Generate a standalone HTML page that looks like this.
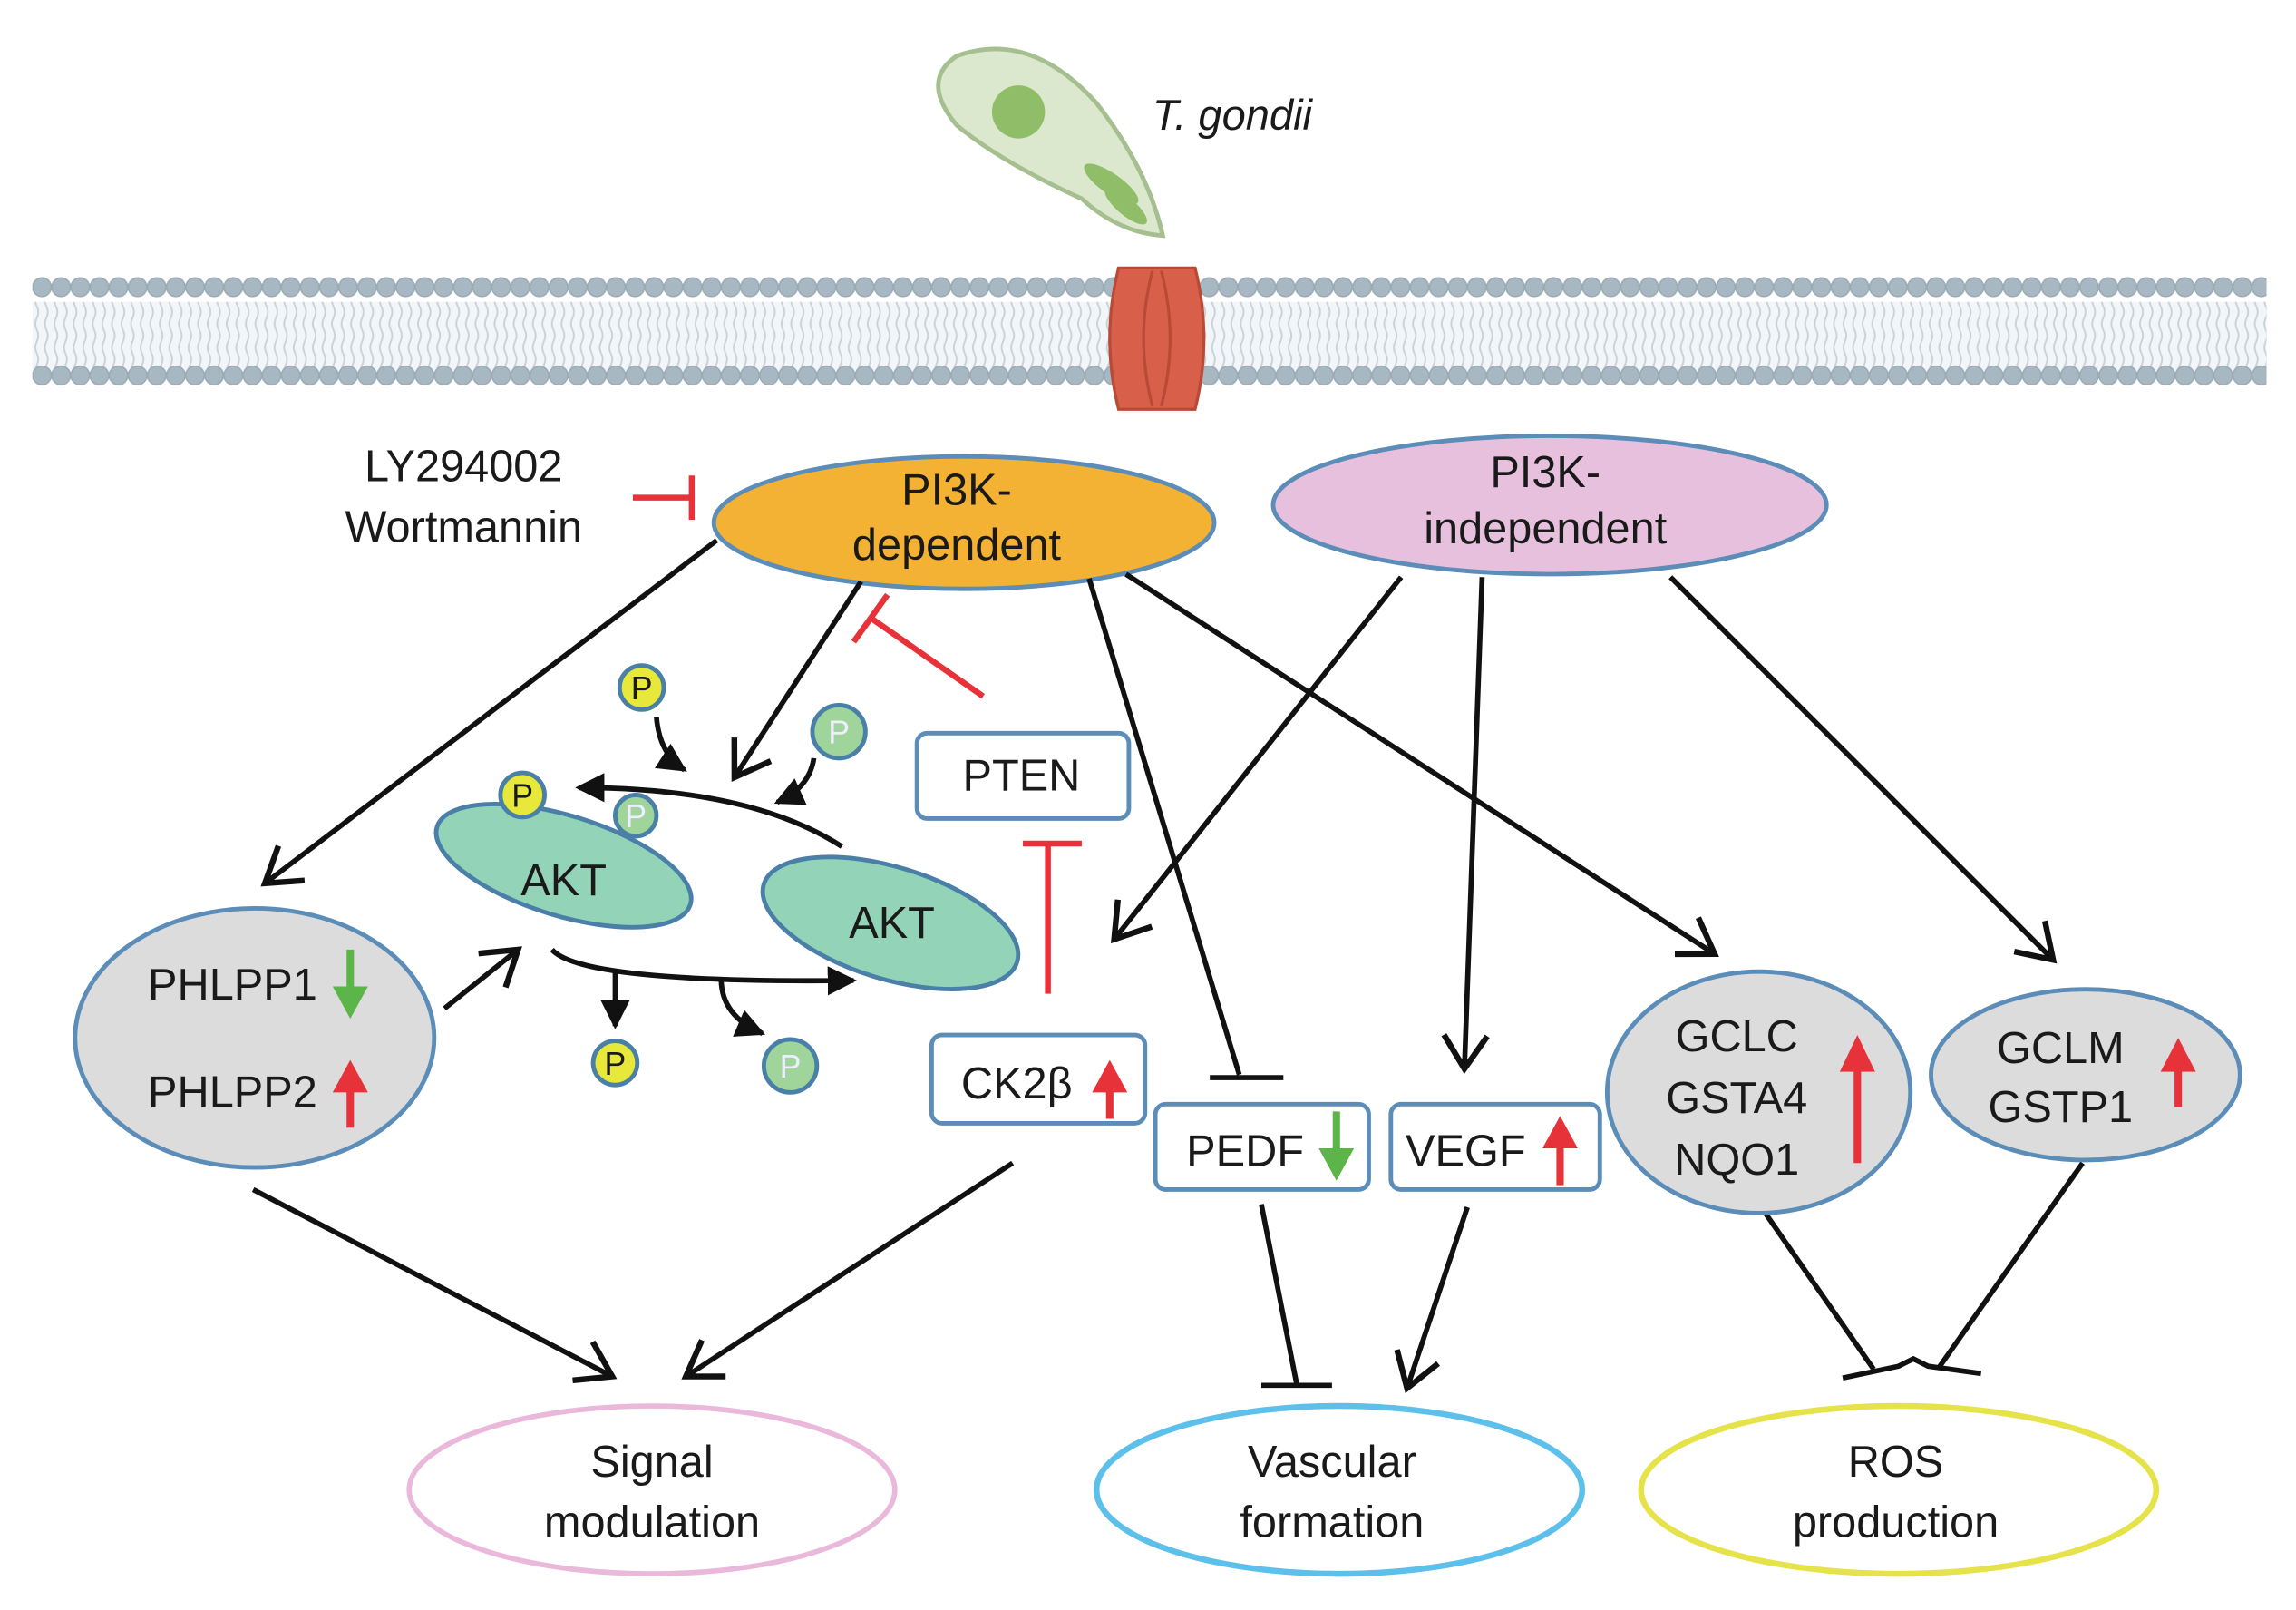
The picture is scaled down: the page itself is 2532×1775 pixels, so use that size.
<!DOCTYPE html>
<html><head><meta charset="utf-8"><style>
html,body{margin:0;padding:0;background:#fff;}
svg{display:block;}
text{font-family:"Liberation Sans",sans-serif;fill:#1a1a1a;}
</style></head><body>
<svg width="2532" height="1775" viewBox="0 0 1560 1093.6" preserveAspectRatio="none" xmlns="http://www.w3.org/2000/svg">
<defs>
<marker id="oa" markerUnits="userSpaceOnUse" markerWidth="34" markerHeight="34" refX="22" refY="15" orient="auto" viewBox="0 0 30 30">
<path d="M2,2 L22,15 L2,28" fill="none" stroke="#111" stroke-width="3.5"/></marker>
<marker id="fa" markerUnits="userSpaceOnUse" markerWidth="22" markerHeight="22" refX="16" refY="10" orient="auto" viewBox="0 0 20 20">
<path d="M0,1 L18,10 L0,19 Z" fill="#111"/></marker>
<pattern id="heads" x="22" y="0" width="13" height="30" patternUnits="userSpaceOnUse">
<circle cx="6.5" cy="15" r="6.3" fill="#a8b8c3" stroke="#9aabb6" stroke-width="1"/></pattern>
<pattern id="tails" x="22" y="0" width="6.5" height="16" patternUnits="userSpaceOnUse">
<path d="M3,0 Q5,4 3,8 Q1,12 3,16" fill="none" stroke="#c9d2d8" stroke-width="1.2"/></pattern>
</defs>

<rect x="22" y="205" width="1518" height="50" fill="#f3f6f8"/>
<rect x="22" y="205" width="1518" height="50" fill="url(#tails)"/>
<rect x="22" y="183" width="1518" height="30" fill="url(#heads)"/>
<rect x="22" y="247" width="1518" height="30" fill="url(#heads)"/>
<path d="M760,182 Q748,230 760,278 L812,278 Q824,230 812,182 Z" fill="#d8604a" stroke="#b84a36" stroke-width="2"/>
<path d="M783,184 Q771,230 783,276 M789,184 Q801,230 789,276" fill="none" stroke="#b84a36" stroke-width="2"/>

<path d="M650,38 Q700,20 745,70 Q780,115 790,160 Q760,158 735,135 Q680,110 650,85 Q625,55 650,38 Z" fill="#dce8cd" stroke="#a5bf90" stroke-width="3"/>
<circle cx="692" cy="76" r="18" fill="#8fbd68"/>
<ellipse cx="755" cy="125" rx="22" ry="7" transform="rotate(35 755 125)" fill="#8fbd68"/>
<ellipse cx="765" cy="140" rx="18" ry="6" transform="rotate(40 765 140)" fill="#8fbd68"/>
<text x="783" y="88" font-size="29" font-style="italic">T. gondii</text>

<text x="315" y="327" font-size="30" text-anchor="middle">LY294002</text>
<text x="315" y="368" font-size="30" text-anchor="middle">Wortmannin</text>
<path d="M430,338 L470,338 M470,323 L470,353" stroke="#e8323a" stroke-width="4" fill="none"/>

<ellipse cx="655" cy="355" rx="170" ry="45" fill="#f4b234" stroke="#5b8db8" stroke-width="3"/>
<text x="650" y="343" font-size="30" text-anchor="middle">PI3K-</text>
<text x="650" y="380" font-size="30" text-anchor="middle">dependent</text>
<ellipse cx="1053" cy="343" rx="188" ry="47" fill="#e6c0dc" stroke="#5b8db8" stroke-width="3"/>
<text x="1050" y="331" font-size="30" text-anchor="middle">PI3K-</text>
<text x="1050" y="369" font-size="30" text-anchor="middle">independent</text>

<g stroke="#111" stroke-width="3.5" fill="none">
<path d="M487,367 L180,600" marker-end="url(#oa)"/>
<path d="M585,395 L499,528" marker-end="url(#oa)"/>
<path d="M740,393 L842,730 M822,732 L872,732"/>
<path d="M765,390 L1165,648" marker-end="url(#oa)"/>
<path d="M952,392 L757,638" marker-end="url(#oa)"/>
<path d="M1007,392 L995,726" marker-end="url(#oa)"/>
<path d="M1135,392 L1395,652" marker-end="url(#oa)"/>
<path d="M302,685 L352,645" marker-end="url(#oa)"/>
<path d="M172,808 L416,935" marker-end="url(#oa)"/>
<path d="M688,790 L466,935" marker-end="url(#oa)"/>
<path d="M857,818 L881,940 M857,941 L905,941"/>
<path d="M997,820 L956,943" marker-end="url(#oa)"/>
<path d="M1198,822 L1273,930 M1252,936 L1290,928 L1300,923 L1310,928 L1346,933 M1415,790 L1318,928"/>
</g>
<g stroke="#e8323a" stroke-width="4" fill="none">
<path d="M668,473 L592,420 M580,436 L603,404"/>
<path d="M712,675 L712,573 M695,573 L735,573"/>
</g>

<g fill="#fff" stroke="#5b8db8" stroke-width="3">
<rect x="623" y="498" width="144" height="58" rx="7"/>
<rect x="633" y="703" width="145" height="60" rx="7"/>
<rect x="785" y="750" width="145" height="58" rx="7"/>
<rect x="945" y="750" width="142" height="58" rx="7"/>
</g>
<text x="694" y="537" font-size="30" text-anchor="middle">PTEN</text>
<text x="653" y="746" font-size="30">CK2β</text>
<text x="806" y="792" font-size="30">PEDF</text>
<text x="955" y="792" font-size="30">VEGF</text>

<ellipse cx="383" cy="588" rx="90" ry="34" transform="rotate(17 383 588)" fill="#93d3b7" stroke="#4a7fa8" stroke-width="3"/>
<ellipse cx="605" cy="627" rx="90" ry="38" transform="rotate(17 605 627)" fill="#93d3b7" stroke="#4a7fa8" stroke-width="3"/>
<text x="383" y="608" font-size="30" text-anchor="middle">AKT</text>
<text x="606" y="637" font-size="30" text-anchor="middle">AKT</text>
<g stroke="#111" stroke-width="3.5" fill="none">
<path d="M572,575 Q510,535 393,535" marker-end="url(#fa)"/>
<path d="M375,645 Q395,668 580,666" marker-end="url(#fa)"/>
<path d="M446,487 Q448,512 465,523" marker-end="url(#fa)"/>
<path d="M553,515 Q550,535 528,545" marker-end="url(#fa)"/>
<path d="M418,660 L418,697" marker-end="url(#fa)"/>
<path d="M490,665 Q490,690 518,702" marker-end="url(#fa)"/>
</g>
<g stroke="#4a7fa8" stroke-width="3">
<circle cx="436" cy="467" r="15" fill="#e8e83a"/>
<circle cx="570" cy="497" r="18" fill="#9fd49b"/>
<circle cx="355" cy="540" r="15" fill="#e8e83a"/>
<circle cx="432" cy="554" r="14" fill="#9fd49b"/>
<circle cx="418" cy="722" r="15" fill="#e8e83a"/>
<circle cx="537" cy="724" r="18" fill="#9fd49b"/>
</g>
<g font-size="22" text-anchor="middle">
<text x="436" y="475">P</text><text x="570" y="505" style="fill:#eef">P</text>
<text x="355" y="548">P</text><text x="432" y="562" style="fill:#eef">P</text>
<text x="418" y="730">P</text><text x="537" y="732" style="fill:#eef">P</text>
</g>

<ellipse cx="173" cy="705" rx="122" ry="88" fill="#dcdcdc" stroke="#5b8db8" stroke-width="3"/>
<text x="158" y="679" font-size="30" text-anchor="middle">PHLPP1</text>
<text x="158" y="752" font-size="30" text-anchor="middle">PHLPP2</text>

<ellipse cx="1195" cy="742" rx="103" ry="82" fill="#dcdcdc" stroke="#5b8db8" stroke-width="3"/>
<text x="1180" y="714" font-size="30" text-anchor="middle">GCLC</text>
<text x="1180" y="756" font-size="30" text-anchor="middle">GSTA4</text>
<text x="1180" y="798" font-size="30" text-anchor="middle">NQO1</text>
<ellipse cx="1417" cy="730" rx="105" ry="58" fill="#dcdcdc" stroke="#5b8db8" stroke-width="3"/>
<text x="1400" y="722" font-size="30" text-anchor="middle">GCLM</text>
<text x="1400" y="762" font-size="30" text-anchor="middle">GSTP1</text>

<g stroke-width="5" fill="none">
<path d="M238,645 L238,675" stroke="#5cb548"/>
<path d="M238,766 L238,735" stroke="#e8323a"/>
<path d="M754,760 L754,735" stroke="#e8323a"/>
<path d="M908,755 L908,785" stroke="#5cb548"/>
<path d="M1060,805 L1060,775" stroke="#e8323a"/>
<path d="M1262,790 L1262,725" stroke="#e8323a"/>
<path d="M1480,752 L1480,725" stroke="#e8323a"/>
</g>
<g>
<path d="M226,670 L250,670 L238,692 Z" fill="#5cb548"/>
<path d="M226,742 L250,742 L238,720 Z" fill="#e8323a"/>
<path d="M742,742 L766,742 L754,720 Z" fill="#e8323a"/>
<path d="M896,780 L920,780 L908,802 Z" fill="#5cb548"/>
<path d="M1048,780 L1072,780 L1060,758 Z" fill="#e8323a"/>
<path d="M1250,728 L1274,728 L1262,703 Z" fill="#e8323a"/>
<path d="M1468,728 L1492,728 L1480,705 Z" fill="#e8323a"/>
</g>

<ellipse cx="443" cy="1012" rx="165" ry="57" fill="none" stroke="#eab8da" stroke-width="3.5"/>
<ellipse cx="910" cy="1012" rx="165" ry="57" fill="none" stroke="#5cc0ea" stroke-width="4"/>
<ellipse cx="1290" cy="1012" rx="175" ry="57" fill="none" stroke="#e6e24a" stroke-width="4"/>
<text x="443" y="1003" font-size="30" text-anchor="middle">Signal</text>
<text x="443" y="1044" font-size="30" text-anchor="middle">modulation</text>
<text x="905" y="1003" font-size="30" text-anchor="middle">Vascular</text>
<text x="905" y="1044" font-size="30" text-anchor="middle">formation</text>
<text x="1288" y="1003" font-size="30" text-anchor="middle">ROS</text>
<text x="1288" y="1044" font-size="30" text-anchor="middle">production</text>
</svg>
</body></html>
